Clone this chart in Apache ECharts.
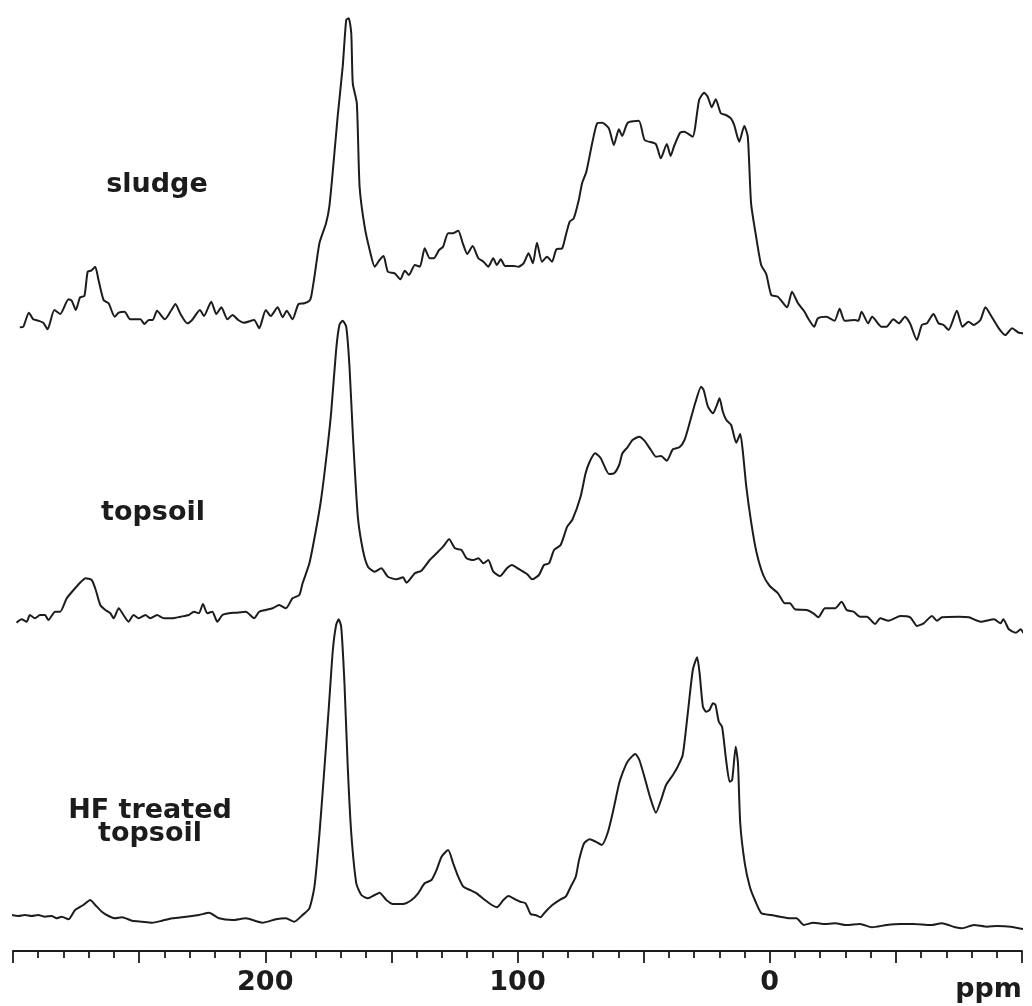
<!DOCTYPE html>
<html>
<head>
<meta charset="utf-8">
<script src="https://cdn.jsdelivr.net/npm/echarts@6/dist/echarts.min.js"></script>
<style>
html,body{margin:0;padding:0;background:#fff;}
#chart{width:1032px;height:1006px;}
</style>
</head>
<body>
<div id="chart"></div>
<script>
// Chemical shift (ppm) vs. intensity (arbitrary units)
const traceLabels = ['sludge', 'topsoil', 'HF treated\ntopsoil'];
const tickLabels = [200, 100, 0];
const axisUnit = 'ppm';

const sludge = [
[297.3,-7.3],[295.9,-6.7],[293.7,7.3],[292.0,0.7],[290.0,-0.7],[288.0,-2.7],[286.3,-9.3],[283.6,10],[281.3,6],[278.0,20.7],
[276.7,19.3],[275.1,10],[273.4,22.7],[271.7,24],[270.4,48.3],[269.0,49.3],[267.4,53.3],[266.1,40],[264.1,20],[262.1,16.7],
[259.7,3.3],[258.1,7.3],[255.8,8.3],[253.5,0.7],[249.5,0.7],[247.9,-4],[246.2,0],[244.6,0],[242.9,9.3],[239.8,0.7],
[237.2,10],[235.6,16],[233.6,6],[230.9,-3.3],[229.0,0],[225.9,10],[224.3,4],[221.4,18.3],[219.4,6],[217.4,12.7],
[215.0,0.7],[213.0,5],[210.7,0],[208.4,-2.7],[204.4,0],[202.4,-8.3],[199.8,10],[197.8,4],[195.1,12.7],[193.1,2.7],
[191.5,9.3],[189.2,0.7],[186.8,16],[184.5,16.7],[182.5,19.3],[181.8,23.3],[180.5,43.3],[178.5,77],[175.9,96.7],[174.6,113.3],
[173.3,146.7],[171.3,203.3],[169.3,253.3],[167.9,300],[166.9,301.7],[165.9,286.7],[165.3,236.7],[163.7,216.7],[162.6,133.3],[160.6,93.3],
[158.6,70],[156.6,53.3],[154.7,60],[153.1,64],[151.4,48.3],[148.7,46.7],[146.4,40.7],[144.7,49.3],[143.0,45],[140.7,55],
[138.7,53.3],[136.8,71.7],[134.8,61.7],[133.2,61.7],[131.1,70],[129.5,73.3],[127.5,86.7],[125.5,86.7],[123.5,89.3],[121.7,76.7],
[119.9,66],[117.8,74],[115.5,61.7],[113.5,58.3],[111.6,53.3],[109.6,61.7],[108.2,55],[106.6,60.7],[104.9,54],[101.6,54],
[99.6,53.3],[97.6,56.7],[95.6,66.7],[93.9,56.7],[92.3,77.3],[90.3,58.3],[88.3,63.3],[86.3,58.3],[84.6,70.7],[82.3,71.7],
[81.0,83.3],[79.3,98.3],[77.7,101.7],[75.7,120],[74.4,136.7],[72.7,148.3],[70.4,176.7],[68.4,196.7],[66.4,197.3],[63.8,191.7],
[61.8,175],[59.8,190.7],[58.5,184],[56.3,197.3],[51.9,199.3],[49.6,180],[45.2,176],[43.2,161.7],[40.8,176],[39.3,164],
[37.9,174],[35.5,187.3],[33.9,188.3],[30.6,183.3],[28.0,220],[26.0,227.3],[24.6,223.3],[23.0,212.7],[21.4,220.7],[19.4,206.7],
[17.4,205],[15.4,201.7],[14.1,195],[12.1,178.3],[10.1,194],[8.7,183.3],[7.4,116.7],[5.4,83.3],[3.4,55],[1.4,46],
[-0.6,25],[-3.2,23.3],[-6.9,12.7],[-8.8,28.3],[-11.2,16.7],[-13.8,8.3],[-15.2,1.7],[-17.6,-6.7],[-19.1,1.7],[-22.4,3.3],
[-25.7,-0.7],[-27.7,11.2],[-29.7,-0.7],[-33.7,0],[-35.1,-0.7],[-36.4,8.3],[-39.0,-3.3],[-40.6,3.3],[-44.3,-6.7],[-46.3,-6.7],
[-49.0,0.7],[-51.2,-3.3],[-53.6,3.3],[-55.6,-3.3],[-58.3,-20],[-60.3,-5],[-62.3,-3.3],[-64.9,6],[-66.9,-3.3],[-68.9,-5],
[-70.9,-10],[-74.2,9.3],[-76.4,-6.7],[-78.8,-1.7],[-80.8,-5],[-83.5,0],[-85.5,12.7],[-87.8,4],[-90.8,-8.3],[-93.4,-15],
[-96.1,-8.3],[-98.7,-12.7],[-102.0,-13.3],[-103.7,-6.7]
];

const topsoil = [
[298.6,-4.7],[296.6,-1.3],[294.6,-3.7],[293.3,3],[291.3,-0.3],[289.3,3],[287.3,3],[286.0,-2],[283.3,6.3],[281.3,6.3],
[278.7,19.7],[276.0,28],[273.4,35.3],[271.2,39.7],[268.8,38],[267.2,28],[265.4,13],[263.4,8],[261.4,4.7],[260.1,-0.3],
[258.1,9.7],[256.2,3],[254.2,-3.7],[252.2,3],[250.2,-0.3],[247.5,3],[245.5,-0.3],[242.9,3],[240.2,-0.3],[236.9,-0.3],
[233.6,1.3],[230.3,3],[228.3,6.3],[226.3,4.7],[224.7,14],[223.0,4.7],[221.0,6.3],[219.0,-3.7],[217.0,3],[214.4,4.7],
[211.7,5.3],[207.7,6.3],[204.4,-0.3],[202.4,6.3],[199.8,8],[197.1,9.7],[194.5,13],[191.8,9.7],[189.2,19.7],[186.5,23],
[185.2,34.7],[182.5,54.7],[179.9,88],[177.9,118],[175.9,158],[173.9,204.7],[171.9,268],[170.6,293],[169.3,297.3],[167.9,291.3],
[166.6,251.3],[165.3,184.7],[163.3,101.3],[161.3,68],[159.3,51.3],[156.6,46.3],[154.0,49.7],[151.4,41.3],[148.0,38.7],[145.4,40.7],
[144.0,35.3],[140.7,44.7],[138.1,47.3],[134.8,58],[132.1,64.7],[129.5,71.3],[127.1,78.7],[124.8,69.7],[122.2,68],[120.2,59.7],
[117.5,58],[115.5,59.7],[113.5,54.7],[111.6,58],[109.6,46.3],[106.9,42],[104.2,49.7],[102.2,53],[99.6,49.2],[96.2,44],
[94.2,38.7],[91.5,43],[89.5,53],[87.5,54.7],[85.5,68],[82.9,73],[80.3,91.3],[78.3,98],[75.0,121.3],[73.0,144.7],
[71.4,156.3],[69.2,164.7],[67.0,159.7],[63.7,144],[61.7,144.7],[59.7,153],[58.4,164.7],[56.4,170.7],[54.4,178],[51.7,181.3],
[49.7,177.3],[47.1,168],[45.1,161.3],[43.1,162],[40.8,157.3],[38.4,168.7],[35.8,170.7],[33.8,178],[31.8,194.7],[29.4,216.3],
[27.2,231.3],[26.2,228],[24.5,211.3],[22.5,204.7],[21.2,211.3],[19.9,219.7],[18.6,206.3],[17.2,198],[15.3,193],[13.3,175.3],
[11.7,184],[10.6,164.7],[9.3,131.3],[7.3,94.7],[5.3,66.3],[2.6,43],[0.0,32],[-3.3,24.7],[-6.0,14.7],[-8.0,14.7],
[-10.0,8.7],[-14.6,8],[-17.3,4.7],[-19.3,0.7],[-21.9,9.7],[-25.9,9.7],[-28.5,16.3],[-30.5,8],[-33.2,6.3],[-35.8,1.3],
[-38.5,1.3],[-41.8,-6],[-43.8,-0.3],[-47.1,-2.7],[-51.8,2],[-55.7,0.7],[-58.4,-8],[-61.0,-5.3],[-64.3,2],[-66.3,-2.7],
[-68.3,0.7],[-75.0,1.3],[-78.9,0.7],[-83.6,-3.7],[-88.9,-1.3],[-91.5,-5.3],[-92.6,-1.3],[-94.8,-11.3],[-97.5,-14.7],[-99.5,-11.3],
[-100.8,-15.3],[-102.8,-12]
];

const hfTopsoil = [
[300.6,3],[297.9,2],[295.3,3],[292.6,2],[290.0,3],[287.3,1.3],[284.7,2],[282.7,-0.3],[280.7,1.3],[278.0,-1.3],
[275.4,8],[272.1,13],[269.4,18],[267.4,13],[264.8,6.3],[262.1,2],[259.5,-0.3],[256.8,0.7],[252.8,-2.7],[248.9,-3.7],
[244.9,-4.7],[240.9,-2.7],[236.9,-0.3],[231.6,1.3],[226.3,3],[222.3,5.3],[218.3,-0.3],[213.0,-2],[207.7,-0.3],[201.1,-4.7],
[195.8,-1.3],[191.8,-0.3],[188.5,-3.7],[185.2,3],[182.5,9.7],[180.5,31.3],[178.5,84.7],[176.5,151.3],[174.6,218],[173.2,268],
[171.9,293],[170.9,298.7],[169.9,291.3],[168.6,234.7],[167.3,151.3],[165.9,84.7],[163.9,34.7],[161.9,23],[159.3,19.7],[156.6,23],
[154.7,25.3],[152.0,18],[149.4,14],[145.4,14],[142.0,18],[139.4,24.7],[136.8,34.7],[134.1,38],[132.1,48],[130.1,61.3],
[127.5,68],[125.5,54.7],[123.5,41.3],[121.5,31.3],[118.8,28],[116.2,24.7],[112.9,18],[110.2,13],[108.2,10.7],[105.6,18],
[103.6,22],[100.9,18.7],[98.9,16.3],[96.8,14.7],[94.8,4],[92.9,3],[90.9,0.7],[88.9,6.3],[86.2,13],[82.9,18.7],
[80.9,21.3],[78.9,31.3],[76.9,41.3],[75.6,58],[73.6,74.7],[71.4,78.7],[69.0,76.3],[66.6,73],[64.3,84.7],[62.3,104.7],
[59.7,134.7],[58.4,144.7],[56.4,156.3],[53.3,164],[51.7,158],[49.7,141.3],[47.5,121.3],[45.1,105.3],[43.1,118],[41.1,133],
[38.4,143],[36.5,151.3],[34.5,163],[32.5,204.7],[30.5,248],[28.8,260.7],[27.8,244.7],[26.5,211.3],[25.2,206.3],[23.9,208],
[22.5,214.7],[21.5,213],[20.2,196.3],[18.9,191.3],[17.3,158],[15.9,136.3],[14.9,138],[13.5,171.3],[12.6,154.7],[11.7,94.7],
[9.9,54.7],[7.9,31.3],[5.9,18],[3.3,4.7],[-0.6,3],[-4.0,1.3],[-8.0,-0.3],[-10.6,-0.3],[-13.5,-7],[-17.3,-4.7],
[-21.2,-6],[-25.9,-5.3],[-30.5,-7],[-35.8,-6],[-40.5,-9.3],[-46.4,-7],[-51.7,-6],[-57.0,-6],[-63.7,-7],[-68.3,-5.3],
[-73.6,-9.3],[-76.3,-10.3],[-80.9,-7],[-86.2,-8.7],[-90.2,-8],[-95.5,-8.7],[-100.8,-11.3]
];

const chart = echarts.init(document.getElementById('chart'), null, {renderer: 'canvas'});

const FONT = '"DejaVu Sans", sans-serif';
const INK = '#1c1c1c';

function xAx(idx, visible) {
  return {
    type: 'value', gridIndex: idx, inverse: true, min: -100, max: 300, interval: 50,
    show: visible,
    axisLine: {show: visible, onZero: false, lineStyle: {color: INK, width: 1.8}},
    axisTick: {show: visible, length: 12, lineStyle: {color: INK, width: 1.8}},
    minorTick: {show: visible, splitNumber: 5, length: 7, lineStyle: {color: INK, width: 1.8}},
    splitLine: {show: false},
    axisLabel: {
      show: visible, margin: 18, color: INK, fontFamily: FONT, fontSize: 27, fontWeight: 'bold',
      formatter: v => tickLabels.indexOf(v) >= 0 ? String(v) : ''
    },
    name: visible ? axisUnit : '',
    nameLocation: 'start', nameGap: 0,
    nameTextStyle: {color: INK, fontFamily: FONT, fontSize: 27, fontWeight: 'bold',
      align: 'right', verticalAlign: 'top', padding: [25, 0, 0, 0]}
  };
}
function yAx(idx, min) {
  return {type: 'value', gridIndex: idx, min: min, max: 320, show: false, splitLine: {show: false}};
}
function line(idx, data) {
  return {
    type: 'line', xAxisIndex: idx, yAxisIndex: idx, data: data,
    showSymbol: false, smooth: 0.2, clip: false, silent: true,
    lineStyle: {color: INK, width: 2}
  };
}

chart.setOption({
  backgroundColor: '#ffffff',
  animation: false,
  grid: [
    {left: 13, right: 10, top: 0, height: 360, outerBoundsMode: 'none', containLabel: false},
    {left: 13, right: 10, top: 298, height: 360, outerBoundsMode: 'none', containLabel: false},
    {left: 13, right: 10, top: 598, height: 353, outerBoundsMode: 'none', containLabel: false}
  ],
  xAxis: [xAx(0, false), xAx(1, false), xAx(2, true)],
  yAxis: [yAx(0, -40), yAx(1, -40), yAx(2, -33)],
  series: [line(0, sludge), line(1, topsoil), line(2, hfTopsoil)],
  graphic: [
    {type: 'text', x: 157, y: 185, style: {text: traceLabels[0], fill: INK, font: 'bold 27px "DejaVu Sans"', align: 'center', verticalAlign: 'middle'}},
    {type: 'text', x: 153, y: 513, style: {text: traceLabels[1], fill: INK, font: 'bold 27px "DejaVu Sans"', align: 'center', verticalAlign: 'middle'}},
    {type: 'text', x: 150, y: 822, style: {text: traceLabels[2], fill: INK, font: 'bold 27px "DejaVu Sans"', align: 'center', verticalAlign: 'middle', lineHeight: 23}}
  ]
});
</script>
</body>
</html>
